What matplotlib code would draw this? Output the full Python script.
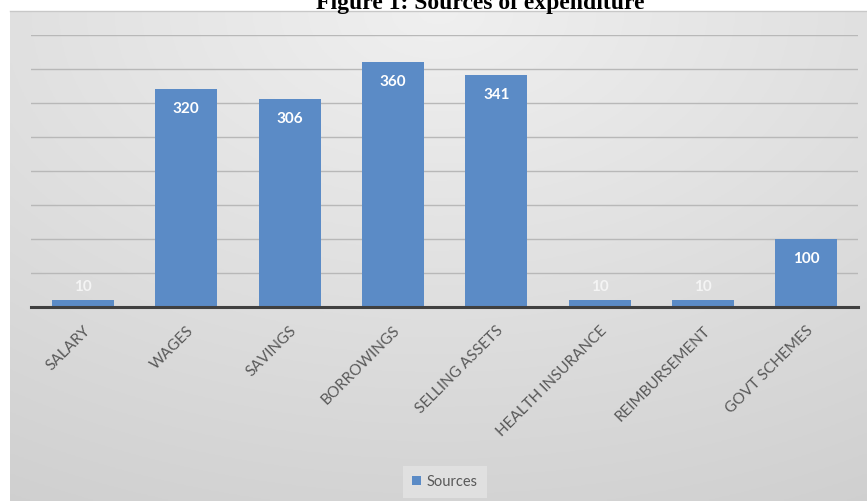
import numpy as np
import matplotlib
matplotlib.use("Agg")
import matplotlib.pyplot as plt
from matplotlib.patches import Patch

categories = ["SALARY", "WAGES", "SAVINGS", "BORROWINGS", "SELLING ASSETS",
              "HEALTH INSURANCE", "REIMBURSEMENT", "GOVT SCHEMES"]
values = [10, 320, 306, 360, 341, 10, 10, 100]
series_name = "Sources"
title = "Figure 1: Sources of expenditure"

W, H = 867, 501
fig = plt.figure(figsize=(W / 100, H / 100), dpi=100)
fig.patch.set_facecolor("white")

# chart background gradient (frame from x=10, y=11 to edges)
bg = fig.add_axes([10 / W, 0, 1 - 10 / W, (H - 11) / H])
yy, xx = np.mgrid[0:1:200j, 0:1:300j]
shade = 0.94 - 0.11 * np.sqrt(((xx - 0.5) * 1.1) ** 2 + (yy * 1.0) ** 2)
shade = np.clip(shade, 0.77, 0.95)
img = np.dstack([shade, shade, shade])
bg.imshow(img, aspect="auto", extent=[0, 1, 0, 1], origin="upper")
bg.set_axis_off()
fig.add_artist(plt.Line2D([10 / W, 1], [(H - 11) / H] * 2, color="#C8C8C8", lw=1))

# main plot axes
left, right = 31.3, 858.0
top, base = 35.0, 307.0
ax = fig.add_axes([left / W, (H - base) / H, (right - left) / W, (base - top) / H])
ax.set_facecolor("none")
x = np.arange(len(categories))
bar_color = "#5B8BC6"
ax.bar(x, values, width=0.6, color=bar_color, zorder=3)
ax.set_xlim(-0.5, len(categories) - 0.5)
ax.set_ylim(0, 400)
ax.set_yticks(np.arange(50, 401, 50))
ax.yaxis.grid(True, color="#B8B8B8", lw=1.0, zorder=0)
ax.tick_params(axis="y", length=0, labelleft=False)
for s in ["top", "right", "left"]:
    ax.spines[s].set_visible(False)
ax.spines["bottom"].set_color("#404040")
ax.spines["bottom"].set_linewidth(2.2)
ax.spines["bottom"].set_zorder(4)

ax.set_xticks(x)
ax.set_xticklabels(categories, rotation=45, ha="right", va="top",
                   rotation_mode="anchor", fontsize=11, color="#595959",
                   family="Lato")
ax.tick_params(axis="x", length=0, pad=12)

for xi, v in zip(x, values):
    if v > 50:
        ax.text(xi, v - 29, str(v), ha="center", va="center", color="white",
                fontsize=11, fontweight="bold", family="Lato", zorder=5)
    else:
        ax.text(xi, v + 20, str(v), ha="center", va="center", color="#F4F4F4",
                fontsize=11, fontweight="bold", family="Lato", zorder=5)

leg = fig.legend(handles=[Patch(facecolor=bar_color, label=series_name)],
                 loc="center", bbox_to_anchor=(445 / W, (H - 482) / H),
                 frameon=True, handlelength=0.6, handleheight=0.6,
                 handletextpad=0.4, borderpad=0.6, fancybox=False,
                 prop={"family": "Lato", "size": 10.5})
leg.get_frame().set_facecolor("#E4E4E4")
leg.get_frame().set_edgecolor("none")
for t in leg.get_texts():
    t.set_color("#595959")

fig.text(480 / W, (H - 9) / H, title, ha="center", va="baseline",
         fontsize=17, fontweight="bold", family="Liberation Serif", color="black")

fig.savefig("out.png", dpi=100)
